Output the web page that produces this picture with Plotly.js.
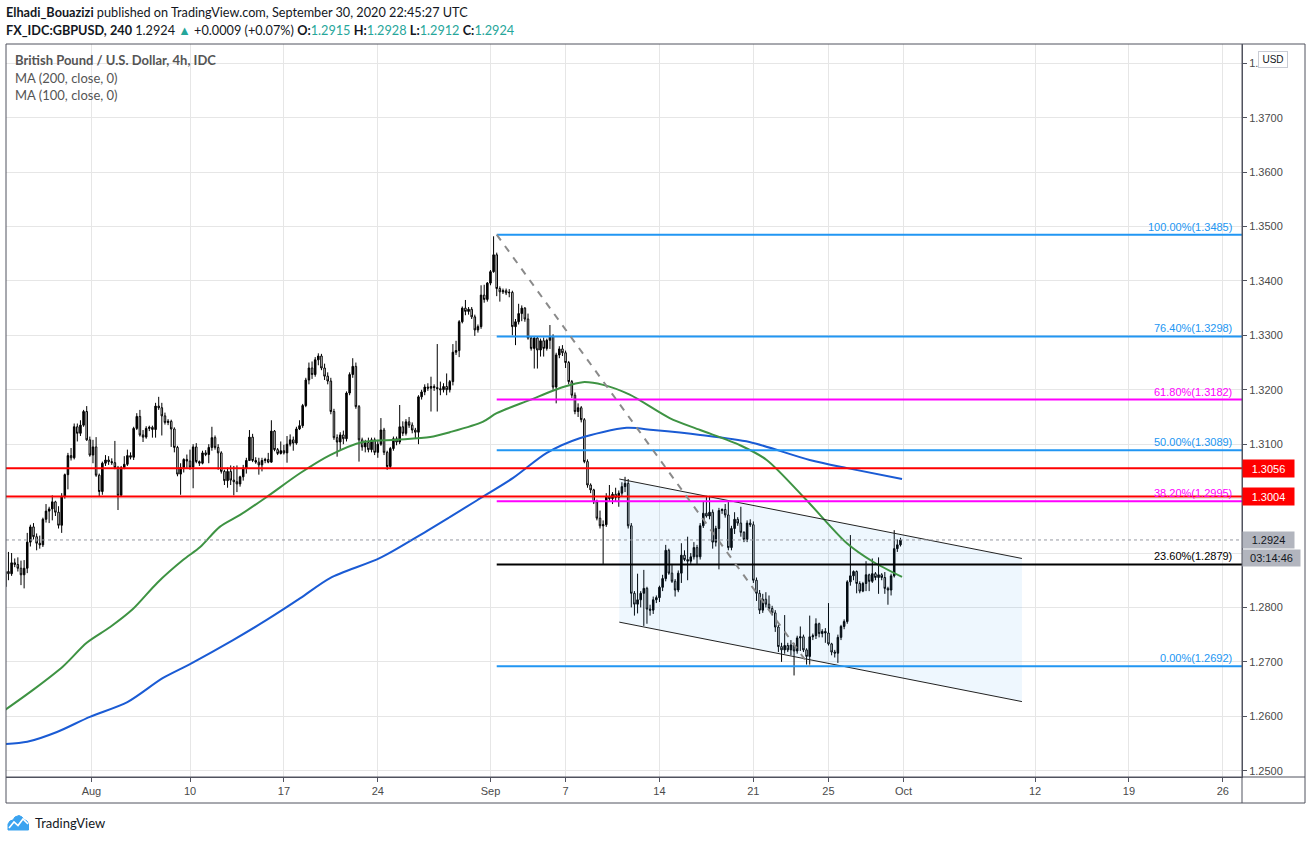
<!DOCTYPE html>
<html><head><meta charset="utf-8">
<script src="https://cdn.plot.ly/plotly-3.0.1.min.js"></script>
<style>html,body{margin:0;padding:0;background:#fff;}#chart{width:1311px;height:841px;}</style>
</head><body><div id="chart"></div>
<script>
// ---------- DATA (GBPUSD 4h, FX_IDC) ----------
// first bar = 2020-07-27 04:00, 6 bars per trading day, weekends skipped
const firstBarDay = '2020-07-27';
const firstBarSlot = 1;
const barOpen = [
1.2838,1.2866,1.2862,1.2882,1.2879,
1.2872,1.2860,1.2872,1.2920,1.2948,1.2930,
1.2918,1.2915,1.2962,1.2977,1.2981,1.2994,
1.2975,1.2951,1.3004,1.3044,1.3079,1.3075,
1.3132,1.3120,1.3135,1.3160,1.3108,1.3080,
1.3095,1.3043,1.3013,1.3065,1.3071,1.3068,
1.3066,1.3057,1.3006,1.3057,1.3063,1.3079,
1.3076,1.3129,1.3151,1.3117,1.3113,1.3129,
1.3131,1.3127,1.3170,1.3167,1.3152,1.3140,
1.3142,1.3128,1.3094,1.3045,1.3057,1.3072,
1.3069,1.3058,1.3095,1.3068,1.3065,1.3084,
1.3081,1.3094,1.3112,1.3094,1.3084,1.3050,
1.3033,1.3050,1.3034,1.3031,1.3027,1.3040,
1.3056,1.3070,1.3113,1.3070,1.3067,1.3062,
1.3070,1.3072,1.3067,1.3124,1.3090,1.3083,
1.3088,1.3084,1.3100,1.3108,1.3102,1.3128,
1.3134,1.3171,1.3218,1.3240,1.3228,1.3255,
1.3262,1.3240,1.3225,1.3216,1.3160,1.3112,
1.3104,1.3117,1.3110,1.3194,1.3228,1.3243,
1.3169,1.3108,1.3095,1.3103,1.3090,1.3108,
1.3085,1.3100,1.3126,1.3085,1.3059,1.3092,
1.3110,1.3104,1.3132,1.3120,1.3141,1.3135,
1.3126,1.3122,1.3187,1.3196,1.3205,1.3203,
1.3206,1.3204,1.3202,1.3200,1.3206,1.3200,
1.3215,1.3269,1.3272,1.3325,1.3350,1.3344,
1.3348,1.3334,1.3310,1.3316,1.3374,1.3366,
1.3396,1.3417,1.3448,1.3386,1.3380,1.3382,
1.3378,1.3379,1.3316,1.3325,1.3340,1.3350,
1.3330,1.3295,1.3276,1.3295,1.3273,1.3290,
1.3276,1.3291,1.3298,1.3205,1.3264,1.3275,
1.3268,1.3250,1.3215,1.3190,1.3160,1.3167,
1.3145,1.3068,1.3025,1.3016,1.2994,1.2964,
1.2950,1.2952,1.3003,1.3000,1.3008,1.3002,
1.3010,1.3022,1.3028,1.2950,1.2826,1.2806,
1.2814,1.2826,1.2835,1.2797,1.2795,1.2814,
1.2818,1.2837,1.2853,1.2905,1.2863,1.2848,
1.2832,1.2863,1.2896,1.2888,1.2885,1.2893,
1.2910,1.2893,1.2950,1.2973,1.2968,1.2975,
1.2920,1.2945,1.2978,1.2980,1.2970,1.2910,
1.2945,1.2962,1.2955,1.2938,1.2925,1.2955,
1.2952,1.2850,1.2826,1.2795,1.2815,1.2806,
1.2798,1.2790,1.2764,1.2728,1.2722,1.2730,
1.2722,1.2731,1.2720,1.2744,1.2746,1.2722,
1.2710,1.2746,1.2748,1.2770,1.2752,1.2756,
1.2753,1.2733,1.2718,1.2716,1.2745,1.2765,
1.2774,1.2847,1.2858,1.2866,1.2844,1.2830,
1.2844,1.2860,1.2848,1.2862,1.2855,1.2860,
1.2855,1.2835,1.2832,1.2858,1.2908,1.2915];
const barHigh = [
1.2872,1.2902,1.2900,1.2890,1.2892,
1.2886,1.2887,1.2937,1.2952,1.2955,1.2936,
1.2932,1.2965,1.2990,1.2985,1.3006,1.2996,
1.2986,1.3010,1.3046,1.3084,1.3093,1.3138,
1.3138,1.3144,1.3163,1.3170,1.3114,1.3108,
1.3113,1.3046,1.3068,1.3080,1.3078,1.3074,
1.3106,1.3060,1.3060,1.3078,1.3090,1.3085,
1.3132,1.3157,1.3163,1.3126,1.3133,1.3134,
1.3134,1.3176,1.3187,1.3176,1.3158,1.3146,
1.3145,1.3131,1.3097,1.3065,1.3074,1.3081,
1.3090,1.3100,1.3102,1.3070,1.3088,1.3089,
1.3100,1.3132,1.3116,1.3100,1.3087,1.3053,
1.3057,1.3061,1.3060,1.3061,1.3042,1.3062,
1.3075,1.3126,1.3119,1.3076,1.3075,1.3075,
1.3075,1.3084,1.3144,1.3126,1.3093,1.3105,
1.3099,1.3115,1.3118,1.3114,1.3132,1.3144,
1.3174,1.3222,1.3250,1.3252,1.3260,1.3267,
1.3266,1.3248,1.3232,1.3222,1.3165,1.3118,
1.3122,1.3125,1.3197,1.3232,1.3258,1.3250,
1.3172,1.3112,1.3108,1.3112,1.3112,1.3112,
1.3108,1.3148,1.3130,1.3088,1.3095,1.3114,
1.3114,1.3172,1.3142,1.3146,1.3150,1.3140,
1.3130,1.3190,1.3200,1.3210,1.3212,1.3224,
1.3210,1.3284,1.3215,1.3212,1.3230,1.3218,
1.3284,1.3290,1.3328,1.3353,1.3365,1.3352,
1.3352,1.3338,1.3320,1.3392,1.3393,1.3398,
1.3420,1.3482,1.3452,1.3390,1.3386,1.3386,
1.3385,1.3382,1.3330,1.3358,1.3355,1.3352,
1.3340,1.3298,1.3298,1.3298,1.3294,1.3296,
1.3294,1.3319,1.3302,1.3268,1.3280,1.3282,
1.3272,1.3253,1.3218,1.3195,1.3175,1.3170,
1.3148,1.3072,1.3028,1.3018,1.2998,1.2978,
1.2960,1.3010,1.3025,1.3012,1.3020,1.3015,
1.3030,1.3040,1.3036,1.2955,1.2830,1.2862,
1.2830,1.2869,1.2838,1.2805,1.2820,1.2822,
1.2840,1.2860,1.2915,1.2908,1.2880,1.2852,
1.2868,1.2918,1.2905,1.2930,1.2900,1.2920,
1.2915,1.2955,1.2995,1.3005,1.3005,1.2980,
1.2950,1.2983,1.2982,1.2990,1.2995,1.2950,
1.2975,1.2966,1.2985,1.2940,1.2960,1.2962,
1.2958,1.2855,1.2832,1.2825,1.2828,1.2822,
1.2803,1.2795,1.2768,1.2735,1.2786,1.2735,
1.2740,1.2735,1.2748,1.2765,1.2750,1.2725,
1.2785,1.2752,1.2780,1.2772,1.2760,1.2762,
1.2808,1.2735,1.2722,1.2750,1.2768,1.2778,
1.2850,1.2933,1.2868,1.2868,1.2848,1.2847,
1.2885,1.2862,1.2890,1.2865,1.2892,1.2863,
1.2865,1.2838,1.2862,1.2942,1.2925,1.2928];
const barLow = [
1.2833,1.2850,1.2858,1.2874,1.2866,
1.2841,1.2835,1.2863,1.2912,1.2925,1.2905,
1.2908,1.2911,1.2956,1.2955,1.2960,1.2968,
1.2945,1.2937,1.3000,1.3017,1.3070,1.3072,
1.3105,1.3115,1.3132,1.3106,1.3077,1.3065,
1.3040,1.3004,1.3007,1.3060,1.3062,1.3062,
1.3054,1.2979,1.3003,1.3054,1.3060,1.3072,
1.3071,1.3126,1.3114,1.3104,1.3110,1.3124,
1.3112,1.3112,1.3163,1.3116,1.3136,1.3135,
1.3095,1.3085,1.3041,1.3007,1.3048,1.3056,
1.3053,1.3019,1.3065,1.3060,1.3063,1.3078,
1.3065,1.3088,1.3090,1.3053,1.3046,1.3025,
1.3020,1.3025,1.3006,1.3012,1.3022,1.3033,
1.3046,1.3069,1.3067,1.3064,1.3044,1.3050,
1.3065,1.3065,1.3066,1.3087,1.3080,1.3081,
1.3081,1.3066,1.3096,1.3088,1.3099,1.3126,
1.3130,1.3168,1.3210,1.3220,1.3224,1.3245,
1.3236,1.3218,1.3210,1.3155,1.3108,1.3077,
1.3090,1.3100,1.3105,1.3190,1.3222,1.3165,
1.3068,1.3088,1.3085,1.3085,1.3085,1.3080,
1.3075,1.3097,1.3080,1.3053,1.3056,1.3088,
1.3098,1.3100,1.3115,1.3116,1.3130,1.3120,
1.3110,1.3100,1.3182,1.3190,1.3198,1.3160,
1.3198,1.3160,1.3190,1.3195,1.3190,1.3195,
1.3208,1.3264,1.3260,1.3322,1.3337,1.3338,
1.3330,1.3299,1.3305,1.3312,1.3360,1.3362,
1.3392,1.3415,1.3372,1.3362,1.3376,1.3374,
1.3370,1.3300,1.3282,1.3320,1.3326,1.3325,
1.3292,1.3272,1.3239,1.3239,1.3261,1.3261,
1.3272,1.3275,1.3200,1.3175,1.3258,1.3262,
1.3240,1.3210,1.3185,1.3155,1.3150,1.3140,
1.3065,1.3020,1.3010,1.2990,1.2960,1.2945,
1.2880,1.2948,1.2995,1.2990,1.2995,1.2985,
1.3005,1.3012,1.2945,1.2800,1.2785,1.2789,
1.2800,1.2766,1.2770,1.2785,1.2788,1.2808,
1.2810,1.2830,1.2848,1.2860,1.2845,1.2820,
1.2828,1.2845,1.2885,1.2850,1.2880,1.2888,
1.2880,1.2888,1.2946,1.2965,1.2962,1.2908,
1.2912,1.2870,1.2972,1.2965,1.2905,1.2905,
1.2935,1.2950,1.2930,1.2920,1.2920,1.2948,
1.2845,1.2812,1.2788,1.2790,1.2800,1.2795,
1.2785,1.2755,1.2718,1.2700,1.2715,1.2718,
1.2712,1.2675,1.2715,1.2720,1.2718,1.2695,
1.2695,1.2740,1.2742,1.2745,1.2745,1.2735,
1.2730,1.2712,1.2708,1.2698,1.2740,1.2760,
1.2770,1.2840,1.2850,1.2826,1.2826,1.2828,
1.2830,1.2830,1.2845,1.2850,1.2825,1.2850,
1.2825,1.2805,1.2822,1.2855,1.2902,1.2912];
const barClose = [
1.2866,1.2862,1.2882,1.2879,1.2872,
1.2860,1.2872,1.2920,1.2948,1.2930,1.2918,
1.2915,1.2962,1.2977,1.2981,1.2994,1.2975,
1.2951,1.3004,1.3044,1.3079,1.3075,1.3132,
1.3120,1.3135,1.3160,1.3108,1.3080,1.3095,
1.3043,1.3013,1.3065,1.3071,1.3068,1.3066,
1.3057,1.3006,1.3057,1.3063,1.3079,1.3076,
1.3129,1.3151,1.3117,1.3113,1.3129,1.3131,
1.3127,1.3170,1.3167,1.3152,1.3140,1.3142,
1.3128,1.3094,1.3045,1.3057,1.3072,1.3069,
1.3058,1.3095,1.3068,1.3065,1.3084,1.3081,
1.3094,1.3112,1.3094,1.3084,1.3050,1.3033,
1.3050,1.3034,1.3031,1.3027,1.3040,1.3056,
1.3070,1.3113,1.3070,1.3067,1.3062,1.3070,
1.3072,1.3067,1.3124,1.3090,1.3083,1.3088,
1.3084,1.3100,1.3108,1.3102,1.3128,1.3134,
1.3171,1.3218,1.3240,1.3228,1.3255,1.3262,
1.3240,1.3225,1.3216,1.3160,1.3112,1.3104,
1.3117,1.3110,1.3194,1.3228,1.3243,1.3169,
1.3108,1.3095,1.3103,1.3090,1.3108,1.3085,
1.3100,1.3126,1.3085,1.3059,1.3092,1.3110,
1.3104,1.3132,1.3120,1.3141,1.3135,1.3126,
1.3122,1.3187,1.3196,1.3205,1.3203,1.3206,
1.3204,1.3202,1.3200,1.3206,1.3200,1.3215,
1.3269,1.3272,1.3325,1.3350,1.3344,1.3348,
1.3334,1.3310,1.3316,1.3374,1.3366,1.3396,
1.3417,1.3448,1.3386,1.3380,1.3382,1.3378,
1.3379,1.3316,1.3325,1.3340,1.3350,1.3330,
1.3295,1.3276,1.3295,1.3273,1.3290,1.3276,
1.3291,1.3298,1.3205,1.3264,1.3275,1.3268,
1.3250,1.3215,1.3190,1.3160,1.3167,1.3145,
1.3068,1.3025,1.3016,1.2994,1.2964,1.2950,
1.2952,1.3003,1.3000,1.3008,1.3002,1.3010,
1.3022,1.3028,1.2950,1.2826,1.2806,1.2814,
1.2826,1.2835,1.2797,1.2795,1.2814,1.2818,
1.2837,1.2853,1.2905,1.2863,1.2848,1.2832,
1.2863,1.2896,1.2888,1.2885,1.2893,1.2910,
1.2893,1.2950,1.2973,1.2968,1.2975,1.2920,
1.2945,1.2978,1.2980,1.2970,1.2910,1.2945,
1.2962,1.2955,1.2938,1.2925,1.2955,1.2952,
1.2850,1.2826,1.2795,1.2815,1.2806,1.2798,
1.2790,1.2764,1.2728,1.2722,1.2730,1.2722,
1.2731,1.2720,1.2744,1.2746,1.2722,1.2710,
1.2746,1.2748,1.2770,1.2752,1.2756,1.2753,
1.2733,1.2718,1.2716,1.2745,1.2765,1.2774,
1.2847,1.2858,1.2866,1.2844,1.2830,1.2844,
1.2860,1.2848,1.2862,1.2855,1.2860,1.2855,
1.2835,1.2832,1.2858,1.2908,1.2915,1.2924];

// Moving averages
const ma100Time = ['2020-07-27 04:00','2020-07-28 15:00','2020-07-30 06:00','2020-07-31 12:00','2020-08-03 18:00','2020-08-04 23:00','2020-08-06 06:00','2020-08-07 15:00','2020-08-10 13:00','2020-08-11 14:00','2020-08-12 16:00','2020-08-14 02:00','2020-08-17 21:00','2020-08-19 11:00','2020-08-21 05:00','2020-08-25 00:30','2020-08-26 19:00','2020-08-27 20:00','2020-08-31 14:00','2020-09-01 08:00','2020-09-03 02:00','2020-09-04 21:00','2020-09-07 22:00','2020-09-09 00:00','2020-09-10 10:00','2020-09-14 13:00','2020-09-16 04:00','2020-09-18 07:00','2020-09-21 17:00','2020-09-23 20:00','2020-09-25 23:30','2020-09-29 09:00','2020-09-30 22:00'];
const ma100Value = [1.2612,1.2648,1.2692,1.2735,1.2764,1.2797,1.2845,1.2887,1.2911,1.2948,1.2970,1.3003,1.3047,1.3080,1.3104,1.3108,1.3113,1.3122,1.3141,1.3157,1.3181,1.3205,1.3214,1.3209,1.3191,1.3148,1.3126,1.3098,1.3071,1.2997,1.2918,1.2884,1.2856];
const ma200Time = ['2020-07-27 04:00','2020-07-28 08:00','2020-07-29 22:00','2020-07-31 16:00','2020-08-04 16:00','2020-08-06 13:00','2020-08-10 00:00','2020-08-12 07:00','2020-08-14 02:00','2020-08-17 21:00','2020-08-19 11:00','2020-08-24 03:00','2020-08-26 06:00','2020-08-27 20:00','2020-08-31 07:00','2020-09-02 05:00','2020-09-04 00:00','2020-09-07 18:00','2020-09-10 06:00','2020-09-11 16:00','2020-09-16 04:00','2020-09-18 19:00','2020-09-24 00:00','2020-09-28 00:00','2020-09-30 22:00'];
const ma200Value = [1.2549,1.2553,1.2571,1.2599,1.2626,1.2670,1.2696,1.2740,1.2777,1.2817,1.2854,1.2891,1.2933,1.2966,1.2997,1.3038,1.3084,1.3111,1.3130,1.3126,1.3117,1.3104,1.3071,1.3056,1.3036];

// Fibonacci retracement
const fibStart = '2020-09-01 08:00';
const fibLevels = [1.3485,1.3298,1.3182,1.3089,1.2995,1.2879,1.2692];
const fibPercent = ['100.00%','76.40%','61.80%','50.00%','38.20%','23.60%','0.00%'];
const fibColors = ['#2196f3','#2196f3','#ff00ff','#2196f3','#ff00ff','#000000','#2196f3'];
// horizontal support lines
const redLevels = [1.3056,1.3004];
// dashed trend line
const trendTime = ['2020-09-01 08:00','2020-09-24 00:00'];
const trendPrice = [1.3485,1.2692];
// descending channel
const channelTime = ['2020-09-09 20:40','2020-10-09 07:12'];
const channelUpper = [1.3036,1.2890];
const channelLower = [1.2773,1.2627];
// last price / header
const lastPrice = 1.2924;
const countdownText = '03:14:46';
const headerLabels = ['O','H','L','C'];
const headerValues = [1.2915,1.2928,1.2912,1.2924];
// axes
const xRange = ['2020-07-27 04:51','2020-10-27 00:29'];
const yRange = [1.24884,1.38354];
const xTickVals = ['2020-07-31 18:00','2020-08-10','2020-08-17','2020-08-24','2020-09-01','2020-09-07','2020-09-14','2020-09-21','2020-09-25','2020-10-01','2020-10-12','2020-10-19','2020-10-26'];
const xTickText = ['Aug','10','17','24','Sep','7','14','21','25','Oct','12','19','26'];
const yTickVals = [1.25,1.26,1.27,1.28,1.29,1.30,1.31,1.32,1.33,1.34,1.35,1.36,1.37,1.38];
// labels as they are visible on the price scale (1.2900 hidden under the tags, 1.3800 cut by the USD badge)
const yTickText = ['1.2500','1.2600','1.2700','1.2800','','1.3000','1.3100','1.3200','1.3300','1.3400','1.3500','1.3600','1.3700','1.'];

// ---------- build ----------
function barTime(i){
  const day = Math.floor(i/6);
  const cal = day + 2*Math.floor(day/5);
  const base = new Date(firstBarDay + 'T00:00:00Z');
  const d = new Date(base.getTime() + cal*86400000 + (i%6)*4*3600000);
  return d.toISOString().slice(0,16).replace('T',' ');
}
const barTimes = barClose.map((_,k)=>barTime(k+firstBarSlot));

const L=6, R=69, T=44, B=64, W=1311, H=841;
const PW = W-L-R, PH = H-T-B;
const px = x => (x-L)/PW;
const py = y => (H-B-y)/PH;

const FONT = 'Liberation Sans, Arial, sans-serif';
const HFONT = 'Lato, Liberation Sans, sans-serif';

const traces = [
  {type:'scatter', mode:'lines', x:[channelTime[0],channelTime[0],channelTime[1],channelTime[1]],
   y:[channelUpper[0],channelLower[0],channelLower[1],channelUpper[1]], fill:'toself',
   fillcolor:'rgba(33,150,243,0.075)', line:{width:0}, hoverinfo:'skip', showlegend:false},
  {type:'candlestick', x:barTimes, open:barOpen, high:barHigh, low:barLow, close:barClose,
   increasing:{line:{color:'#000000',width:1}, fillcolor:'#000000'},
   decreasing:{line:{color:'#000000',width:1}, fillcolor:'#ffffff'},
   whiskerwidth:0, hoverinfo:'skip', showlegend:false},
  {type:'scatter', mode:'lines', x:ma200Time, y:ma200Value, line:{color:'#1a5bd4',width:2,shape:'spline',smoothing:0.8}, hoverinfo:'skip', showlegend:false},
  {type:'scatter', mode:'lines', x:ma100Time, y:ma100Value, line:{color:'#3e9343',width:2,shape:'spline',smoothing:0.8}, hoverinfo:'skip', showlegend:false}
];

const shapes = [];
shapes.push({type:'line', xref:'x', yref:'y', x0:channelTime[0], x1:channelTime[1], y0:channelUpper[0], y1:channelUpper[1], line:{color:'#222222',width:1}});
shapes.push({type:'line', xref:'x', yref:'y', x0:channelTime[0], x1:channelTime[1], y0:channelLower[0], y1:channelLower[1], line:{color:'#222222',width:1}});
shapes.push({type:'line', xref:'paper', yref:'y', x0:0, x1:1, y0:lastPrice, y1:lastPrice, line:{color:'#9598a1',width:1,dash:'dot'}});
fibLevels.forEach((lv,k)=>{
  shapes.push({type:'line', xref:'x', yref:'y', x0:fibStart, x1:xRange[1], y0:lv, y1:lv, line:{color:fibColors[k], width:2}});
});
redLevels.forEach(lv=>{
  shapes.push({type:'line', xref:'paper', yref:'y', x0:0, x1:1, y0:lv, y1:lv, line:{color:'#ff0000', width:2}});
});
shapes.push({type:'line', xref:'x', yref:'y', x0:trendTime[0], x1:trendTime[1], y0:trendPrice[0], y1:trendPrice[1], line:{color:'#8a8a8a', width:2, dash:'7px,7px'}});
shapes.push({type:'rect', xref:'paper', yref:'paper', x0:px(6), x1:px(1305), y0:py(803), y1:py(44), line:{color:'#50535e',width:1}, fillcolor:'rgba(0,0,0,0)'});
shapes.push({type:'line', xref:'paper', yref:'paper', x0:1, x1:1, y0:py(803), y1:1, line:{color:'#50535e',width:1}});
shapes.push({type:'line', xref:'paper', yref:'paper', x0:0, x1:px(1305), y0:0, y1:0, line:{color:'#50535e',width:1}});
function pathFromPx(pts, close){
  return pts.map((p,k)=>(k?'L':'M')+px(p[0]).toFixed(5)+','+py(p[1]).toFixed(5)).join(' ') + (close?' Z':'');
}
shapes.push({type:'path', xref:'paper', yref:'paper', path:pathFromPx([[8,830],[8,824],[10,821],[13,820],[15,817],[19,815.5],[22,817],[24,819.5],[27,821],[28.5,824],[28.5,830]],true), fillcolor:'#3aa3f0', line:{color:'#3aa3f0',width:1}});
shapes.push({type:'path', xref:'paper', yref:'paper', path:pathFromPx([[9,828],[14,822],[18,825.5],[23,819],[28,824]],false), line:{color:'#ffffff',width:1.6}});

const annotations = [];
fibLevels.forEach((lv,k)=>{
  annotations.push({xref:'paper', x:px(1234), xanchor:'right', yref:'y', y:lv, yanchor:'bottom', yshift:0,
    text:fibPercent[k]+'('+lv.toFixed(4)+')', showarrow:false, font:{family:FONT,size:11,color:fibColors[k]}});
});
redLevels.forEach(lv=>{
  annotations.push({xref:'paper', x:1, xanchor:'left', yref:'y', y:lv, yanchor:'middle', text:lv.toFixed(4),
    showarrow:false, bgcolor:'#ff0000', width:47, height:13, borderpad:2, font:{family:FONT,size:11,color:'#ffffff'}});
});
annotations.push({xref:'paper', x:1, xanchor:'left', yref:'y', y:lastPrice, yanchor:'middle', text:lastPrice.toFixed(4),
  showarrow:false, bgcolor:'#b2b5be', width:47, height:12, borderpad:2, font:{family:FONT,size:11,color:'#131722'}});
annotations.push({xref:'paper', x:1, xanchor:'left', yref:'y', y:lastPrice, yanchor:'middle', yshift:-18, text:countdownText,
  showarrow:false, bgcolor:'#b2b5be', width:53, height:12, borderpad:2, font:{family:FONT,size:11,color:'#131722'}});
annotations.push({xref:'paper', x:px(1273), xanchor:'center', yref:'paper', y:py(59.5), yanchor:'middle', text:'USD',
  showarrow:false, bgcolor:'#ffffff', bordercolor:'#c9ccd4', borderwidth:1, borderpad:2, width:24, height:11, font:{family:FONT,size:10,color:'#131722'}});
annotations.push({xref:'paper', x:px(4), xanchor:'left', yref:'paper', y:py(12), yanchor:'middle', showarrow:false, align:'left',
  text:'<b>Elhadi_Bouazizi</b> published on TradingView.com, September 30, 2020 22:45:27 UTC', font:{family:HFONT,size:12.7,color:'#131722'}});
const teal = '#26a69a';
let line2 = '<b>FX_IDC:GBPUSD, 240</b> ' + lastPrice.toFixed(4) + ' <span style="color:'+teal+'">▲</span> +0.0009 (+0.07%)';
headerLabels.forEach((lab,k)=>{ line2 += ' <b>'+lab+':</b><span style="color:'+teal+'">'+headerValues[k].toFixed(4)+'</span>'; });
annotations.push({xref:'paper', x:px(4), xanchor:'left', yref:'paper', y:py(30), yanchor:'middle', showarrow:false, align:'left',
  text:line2, font:{family:HFONT,size:12.7,color:'#131722'}});
annotations.push({xref:'paper', x:px(13), xanchor:'left', yref:'paper', y:py(60), yanchor:'middle', showarrow:false,
  text:'<b>British Pound / U.S. Dollar, 4h, IDC</b>', font:{family:HFONT,size:13,color:'#555555'}});
annotations.push({xref:'paper', x:px(13), xanchor:'left', yref:'paper', y:py(78), yanchor:'middle', showarrow:false,
  text:'MA (200, close, 0)', font:{family:HFONT,size:13,color:'#555555'}});
annotations.push({xref:'paper', x:px(13), xanchor:'left', yref:'paper', y:py(95), yanchor:'middle', showarrow:false,
  text:'MA (100, close, 0)', font:{family:HFONT,size:13,color:'#555555'}});
annotations.push({xref:'paper', x:px(33), xanchor:'left', yref:'paper', y:py(823), yanchor:'middle', showarrow:false,
  text:'TradingView', font:{family:HFONT,size:13,color:'#131722'}});

const layout = {
  width:W, height:H, margin:{l:L,r:R,t:T,b:B,pad:0},
  paper_bgcolor:'#ffffff', plot_bgcolor:'#ffffff', showlegend:false, hovermode:false,
  xaxis:{type:'date', range:xRange, rangebreaks:[{bounds:['sat','mon']}], rangeslider:{visible:false},
    tickmode:'array', tickvals:xTickVals, ticktext:xTickText, showgrid:true, gridcolor:'#e6e6e6', gridwidth:1,
    ticks:'outside', ticklen:4, tickcolor:'#50535e', showline:true, linecolor:'#50535e', linewidth:1,
    tickfont:{family:FONT,size:11,color:'#4a4a4a'}, zeroline:false, fixedrange:true},
  yaxis:{side:'right', range:yRange, tickmode:'array', tickvals:yTickVals, ticktext:yTickText,
    showgrid:true, gridcolor:'#e6e6e6', gridwidth:1, ticks:'outside', ticklen:4, tickcolor:'#50535e',
    showline:true, linecolor:'#50535e', linewidth:1, tickfont:{family:FONT,size:11,color:'#4a4a4a'}, zeroline:false, fixedrange:true},
  shapes:shapes, annotations:annotations
};
Plotly.newPlot('chart', traces, layout, {staticPlot:true, displayModeBar:false});
</script></body></html>
